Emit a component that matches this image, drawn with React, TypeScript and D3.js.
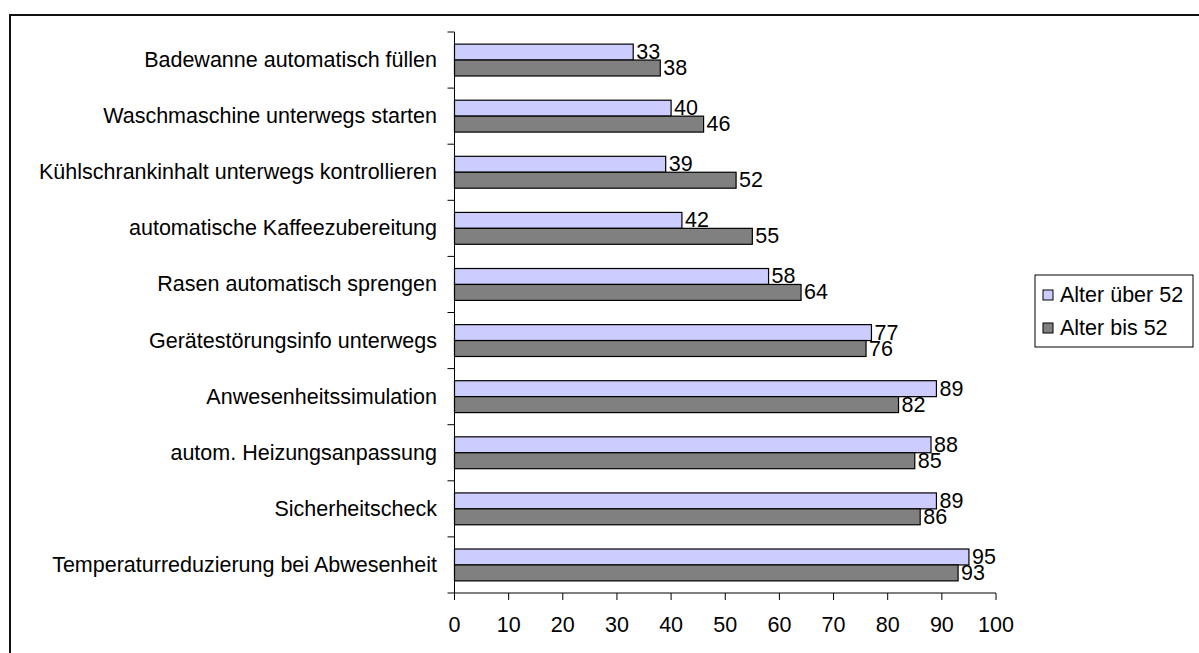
import React, { useEffect, useRef } from 'react';
import * as d3 from 'd3';

const categories = [
  'Badewanne automatisch füllen',
  'Waschmaschine unterwegs starten',
  'Kühlschrankinhalt unterwegs kontrollieren',
  'automatische Kaffeezubereitung',
  'Rasen automatisch sprengen',
  'Gerätestörungsinfo unterwegs',
  'Anwesenheitssimulation',
  'autom. Heizungsanpassung',
  'Sicherheitscheck',
  'Temperaturreduzierung bei Abwesenheit',
];
const over52 = [33, 40, 39, 42, 58, 77, 89, 88, 89, 95];
const upTo52 = [38, 46, 52, 55, 64, 76, 82, 85, 86, 93];
const seriesNames = ['Alter über 52', 'Alter bis 52'];
const seriesColors = ['#ccccff', '#808080'];
const xTicks = [0, 10, 20, 30, 40, 50, 60, 70, 80, 90, 100];

const FONT = '"Liberation Sans", Arial, sans-serif';
const FS = '21.5px';

const App: React.FC = () => {
  const ref = useRef<SVGSVGElement | null>(null);

  useEffect(() => {
    const width = 1199;
    const height = 653;
    const svg = d3.select(ref.current)
      .attr('width', width)
      .attr('height', height)
      .style('position', 'absolute')
      .style('left', 0)
      .style('top', 0)
      .style('background', '#fff');
    svg.selectAll('*').remove();

    // outer frame
    svg.append('rect')
      .attr('x', 10).attr('y', 15)
      .attr('width', 1400).attr('height', 1000)
      .attr('fill', 'none')
      .attr('stroke', '#111')
      .attr('stroke-width', 2);

    const x = d3.scaleLinear().domain([0, 100]).range([454.5, 996]);
    const y = d3.scaleBand<string>().domain(categories).range([32, 593]).padding(0);
    const sub = d3.scaleBand<number>().domain([0, 1]).range([0, y.bandwidth()])
      .paddingInner(0).paddingOuter(0.76);

    const rows = categories.map((c, i) => ({ c, vals: [over52[i], upTo52[i]] }));

    const g = svg.append('g');

    // bars
    rows.forEach(r => {
      r.vals.forEach((v, s) => {
        const by = (y(r.c) || 0) + (sub(s) || 0);
        g.append('rect')
          .attr('x', x(0))
          .attr('y', by)
          .attr('width', x(v) - x(0))
          .attr('height', sub.bandwidth())
          .attr('fill', seriesColors[s])
          .attr('stroke', '#000')
          .attr('stroke-width', 1.2);
        g.append('text')
          .attr('x', x(v) + 3)
          .attr('y', by + sub.bandwidth() / 2)
          .attr('dominant-baseline', 'central')
          .style('font-family', FONT)
          .style('font-size', FS)
          .text(v);
      });
    });

    // y axis
    g.append('line')
      .attr('x1', x(0)).attr('x2', x(0))
      .attr('y1', 32).attr('y2', 593)
      .attr('stroke', '#000');
    const bounds = categories.map(c => y(c) || 0).concat([593]);
    bounds.forEach(b => {
      g.append('line')
        .attr('x1', x(0) - 7).attr('x2', x(0))
        .attr('y1', b).attr('y2', b)
        .attr('stroke', '#000');
    });
    categories.forEach(c => {
      g.append('text')
        .attr('x', 437)
        .attr('y', (y(c) || 0) + y.bandwidth() / 2)
        .attr('text-anchor', 'end')
        .attr('dominant-baseline', 'central')
        .style('font-family', FONT)
        .style('font-size', FS)
        .text(c);
    });

    // x axis
    g.append('line')
      .attr('x1', x(0)).attr('x2', x(100))
      .attr('y1', 593).attr('y2', 593)
      .attr('stroke', '#000');
    xTicks.forEach(t => {
      g.append('line')
        .attr('x1', x(t)).attr('x2', x(t))
        .attr('y1', 593).attr('y2', 600)
        .attr('stroke', '#000');
      g.append('text')
        .attr('x', x(t))
        .attr('y', 625)
        .attr('text-anchor', 'middle')
        .attr('dominant-baseline', 'central')
        .style('font-family', FONT)
        .style('font-size', FS)
        .text(t);
    });

    // legend
    const lg = svg.append('g');
    lg.append('rect')
      .attr('x', 1035).attr('y', 275)
      .attr('width', 158).attr('height', 72)
      .attr('fill', '#fff')
      .attr('stroke', '#000')
      .attr('stroke-width', 1);
    seriesNames.forEach((name, i) => {
      const cy = 295 + i * 33;
      lg.append('rect')
        .attr('x', 1043).attr('y', cy - 5)
        .attr('width', 10).attr('height', 10)
        .attr('fill', seriesColors[i])
        .attr('stroke', '#000');
      lg.append('text')
        .attr('x', 1060)
        .attr('y', cy)
        .attr('dominant-baseline', 'central')
        .style('font-family', FONT)
        .style('font-size', FS)
        .text(name);
    });
  }, []);

  return <svg ref={ref}></svg>;
};

export default App;
